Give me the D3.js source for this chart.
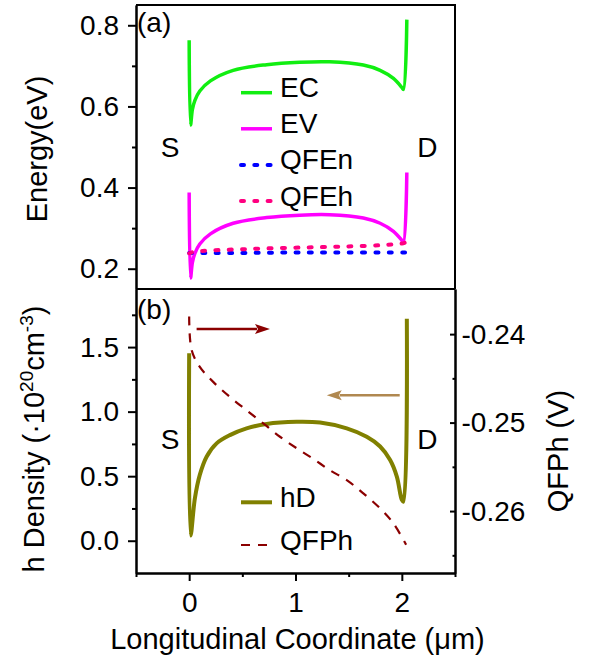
<!DOCTYPE html>
<html>
<head>
<meta charset="utf-8">
<script src="https://cdn.jsdelivr.net/npm/d3@7"></script>
<style>
  body { margin: 0; background: #fff; }
  svg text { font-family: "Liberation Sans", Arial, sans-serif; fill: #000; }
</style>
</head>
<body>
<svg id="chart"></svg>
<script>

// ticks
var xTicks = [0, 1, 2];
var xMinorTicks = [-0.5, 0.5, 1.5, 2.5];
var energyTicks = [0.2, 0.4, 0.6, 0.8];
var energyMinorTicks = [0.3, 0.5, 0.7];
var densityTicks = [0.0, 0.5, 1.0, 1.5];
var densityMinorTicks = [0.25, 0.75, 1.25, 1.75];
var qfphTicks = [-0.24, -0.25, -0.26];
var qfphMinorTicks = [-0.245, -0.255, -0.265];

// panel (a): band edges and quasi fermi levels, [x (um), energy (eV)]
var ecData = [[0, 0.763], [0.013, 0.554], [0.03, 0.592], [0.054, 0.615], [0.10, 0.638], [0.2, 0.663],
  [0.414, 0.689], [0.729, 0.703], [1.04, 0.709], [1.32, 0.710], [1.638, 0.702], [1.796, 0.689],
  [1.921, 0.669], [2.0, 0.647], [2.015, 0.642], [2.047, 0.814]];
var evData = [[0, 0.388], [0.013, 0.177], [0.03, 0.215], [0.054, 0.238], [0.10, 0.261], [0.2, 0.286],
  [0.414, 0.312], [0.729, 0.326], [1.04, 0.332], [1.32, 0.333], [1.638, 0.325], [1.796, 0.312],
  [1.921, 0.292], [2.0, 0.270], [2.015, 0.265], [2.047, 0.437]];
var qfenData = [[0, 0.239], [0.5, 0.239], [1.0, 0.240], [1.5, 0.240], [2.04, 0.240]];
var qfehData = [[0, 0.238], [0.05, 0.242], [0.2, 0.245], [0.5, 0.248], [0.85, 0.251], [1.2, 0.253],
  [1.5, 0.255], [1.8, 0.258], [2.0, 0.262], [2.03, 0.264]];

// panel (b): hole density (1e20 cm^-3) and hole quasi fermi potential (V)
var hdData = [[0, 1.453], [0.013, 0.04], [0.054, 0.33], [0.10, 0.51], [0.164, 0.651], [0.258, 0.754],
  [0.383, 0.818], [0.54, 0.870], [0.729, 0.905], [1.011, 0.921], [1.231, 0.915], [1.482, 0.870],
  [1.67, 0.805], [1.796, 0.73], [1.89, 0.625], [1.953, 0.497], [2.0, 0.316], [2.015, 0.303], [2.047, 1.719]];
var qfphData = [[0, -0.2380], [0.023, -0.2418], [0.10, -0.2437], [0.226, -0.2454], [0.383, -0.2471],
  [0.54, -0.2486], [0.697, -0.2501], [0.854, -0.2516], [1.011, -0.2529], [1.168, -0.2541],
  [1.325, -0.2554], [1.482, -0.2565], [1.638, -0.2580], [1.796, -0.2597], [1.921, -0.2614], [2.04, -0.2638]];

// arrows pointing to the matching axis (density units)
var arrowFrom = [0.07, 1.98];
var arrowTo = [0.76, 1.294];
var arrowLevel = [1.641, 1.127];

var width = 590,
    height = 664;

var left = 136, right = 455,
    topA = 5, mid = 289, bottom = 573;

var font = 28;

var svg = d3.select("#chart")
    .attr("width", width)
    .attr("height", height);

var x = d3.scaleLinear().domain([-0.5, 2.5]).range([left, right]);
var yA = d3.scaleLinear().domain([0.15, 0.85]).range([mid, topA]);
var yB = d3.scaleLinear().domain([-0.25, 1.95]).range([bottom, mid]);
var yR = d3.scaleLinear().domain([-0.267, -0.2349]).range([bottom, mid]);

function lineFor(yScale) {
  return d3.line()
      .x(function(d) { return x(d[0]); })
      .y(function(d) { return yScale(d[1]); })
      .curve(d3.curveCatmullRom.alpha(0.5));
}

var seriesA = [
  {name: "EC", data: ecData, color: "#11ee11", width: 3.5, dash: null},
  {name: "EV", data: evData, color: "#ff00ff", width: 3.5, dash: null},
  {name: "QFEn", data: qfenData, color: "#0000ff", width: 4, dash: "3,10.3", cap: "round"},
  {name: "QFEh", data: qfehData, color: "#ff0080", width: 4, dash: "3,10.3", cap: "round"}
];
var seriesB = [
  {name: "hD", data: hdData, color: "#808000", width: 4, dash: null, y: yB},
  {name: "QFPh", data: qfphData, color: "#8b0000", width: 2.2, dash: "9,8", y: yR}
];

// frame lines
svg.append("path")
    .attr("d", "M" + left + "," + topA + "H" + right + "V" + mid + "M" + left + "," + mid + "H" + right)
    .attr("fill", "none")
    .attr("stroke", "#000")
    .attr("stroke-width", 2);

// draw the curves
seriesA.forEach(function(s) {
  svg.append("path")
      .datum(s.data)
      .attr("d", lineFor(yA))
      .attr("fill", "none")
      .attr("stroke", s.color)
      .attr("stroke-width", s.width)
      .attr("stroke-dasharray", s.dash)
      .attr("stroke-linecap", s.cap || "butt")
      .attr("stroke-linejoin", "round");
});

seriesB.forEach(function(s) {
  svg.append("path")
      .datum(s.data)
      .attr("d", lineFor(s.y))
      .attr("fill", "none")
      .attr("stroke", s.color)
      .attr("stroke-width", s.width)
      .attr("stroke-dasharray", s.dash)
      .attr("stroke-linejoin", "round");
});

// axes
function styleAxis(g) {
  g.select(".domain").attr("stroke-width", 2);
  g.selectAll(".tick line").attr("stroke-width", 2);
  g.selectAll("text").attr("font-size", font).attr("font-family", "Liberation Sans, Arial, sans-serif");
}

var axA = svg.append("g").attr("transform", "translate(" + left + ",0)")
    .call(d3.axisLeft(yA).tickValues(energyTicks).tickSize(8).tickSizeOuter(0).tickPadding(9)
      .tickFormat(d3.format(".1f")));
styleAxis(axA);
svg.append("g").attr("transform", "translate(" + left + ",0)")
    .call(d3.axisLeft(yA).tickValues(energyMinorTicks).tickSize(4).tickSizeOuter(0).tickFormat(""))
    .call(styleAxis);

var axB = svg.append("g").attr("transform", "translate(" + left + ",0)")
    .call(d3.axisLeft(yB).tickValues(densityTicks).tickSize(8).tickSizeOuter(0).tickPadding(9)
      .tickFormat(d3.format(".1f")));
styleAxis(axB);
svg.append("g").attr("transform", "translate(" + left + ",0)")
    .call(d3.axisLeft(yB).tickValues(densityMinorTicks).tickSize(4).tickSizeOuter(0).tickFormat(""))
    .call(styleAxis);

var axR = svg.append("g").attr("transform", "translate(" + right + ",0)")
    .call(d3.axisRight(yR).tickValues(qfphTicks).tickSize(-5).tickSizeOuter(0).tickPadding(6.5)
      .tickFormat(d3.format(".2f")));
styleAxis(axR);
svg.append("g").attr("transform", "translate(" + right + ",0)")
    .call(d3.axisRight(yR).tickValues(qfphMinorTicks).tickSize(-2.5).tickSizeOuter(0).tickFormat(""))
    .call(styleAxis);

var axX = svg.append("g").attr("transform", "translate(0," + bottom + ")")
    .call(d3.axisBottom(x).tickValues(xTicks).tickSize(8).tickSizeOuter(0).tickPadding(11)
      .tickFormat(d3.format("d")));
styleAxis(axX);
svg.append("g").attr("transform", "translate(0," + bottom + ")")
    .call(d3.axisBottom(x).tickValues(xMinorTicks).tickSize(4).tickSizeOuter(0).tickFormat(""))
    .call(styleAxis);

// minus signs as plain hyphen like the original
axR.selectAll("text").text(function(d) { return d3.format(".2f")(d).replace("\u2212", "-"); });

// arrows
arrowFrom.forEach(function(a, i) {
  var color = i === 0 ? "#8b0000" : "#b08850";
  var x0 = x(a), x1 = x(arrowTo[i]), yy = yB(arrowLevel[i]);
  var dir = x1 > x0 ? 1 : -1;
  var head = 15;
  svg.append("line")
      .attr("x1", x0).attr("y1", yy)
      .attr("x2", x1 - dir * head + dir * 2).attr("y2", yy)
      .attr("stroke", color)
      .attr("stroke-width", 2.5);
  svg.append("path")
      .attr("d", "M" + x1 + "," + yy + "L" + (x1 - dir * head) + "," + (yy - 5) +
        "L" + (x1 - dir * head + dir * 3) + "," + yy + "L" + (x1 - dir * head) + "," + (yy + 5) + "Z")
      .attr("fill", color);
});

// legends
function legend(series, rowY, rowGap) {
  series.forEach(function(s, i) {
    var yy = rowY + i * rowGap;
    svg.append("line")
        .attr("x1", 241).attr("x2", 272)
        .attr("y1", yy).attr("y2", yy)
        .attr("stroke", s.color)
        .attr("stroke-width", s.width)
        .attr("stroke-dasharray", s.dash)
        .attr("stroke-linecap", s.cap || "butt");
    svg.append("text")
        .attr("x", 280)
        .attr("y", yy + 4.5)
        .attr("font-size", font)
        .text(s.name);
  });
}
legend(seriesA, 92.7, 36.1);
legend(seriesB, 502.3, 42.7);

// panel labels and S/D markers
svg.append("text").attr("x", 137).attr("y", 32).attr("font-size", font).text("(a)");
svg.append("text").attr("x", 137).attr("y", 319).attr("font-size", font).text("(b)");

[["S", -0.18], ["D", 2.24]].forEach(function(t) {
  svg.append("text").attr("x", x(t[1])).attr("y", yA(0.5) + 10)
      .attr("text-anchor", "middle").attr("font-size", font).text(t[0]);
  svg.append("text").attr("x", x(t[1])).attr("y", yB(0.79) + 10)
      .attr("text-anchor", "middle").attr("font-size", font).text(t[0]);
});

// axis titles
svg.append("text")
    .attr("transform", "translate(47," + ((topA + mid) / 2 + 2) + ") rotate(-90)")
    .attr("text-anchor", "middle")
    .attr("font-size", 29)
    .text("Energy(eV)");

var dens = svg.append("text")
    .attr("transform", "translate(43.5,439) rotate(-90)")
    .attr("text-anchor", "middle")
    .attr("font-size", 29);
dens.append("tspan").text("h Density (\u00b710");
dens.append("tspan").attr("dy", -11).attr("font-size", 19).text("20");
dens.append("tspan").attr("dy", 11).text("cm");
dens.append("tspan").attr("dy", -11).attr("font-size", 19).text("-3");
dens.append("tspan").attr("dy", 11).text(")");

svg.append("text")
    .attr("transform", "translate(568,451) rotate(-90)")
    .attr("text-anchor", "middle")
    .attr("font-size", 29)
    .text("QFPh (V)");

svg.append("text")
    .attr("x", (left + right) / 2 + 2)
    .attr("y", 649)
    .attr("text-anchor", "middle")
    .attr("font-size", 29)
    .text("Longitudinal Coordinate (\u03bcm)");

</script>
</body>
</html>
